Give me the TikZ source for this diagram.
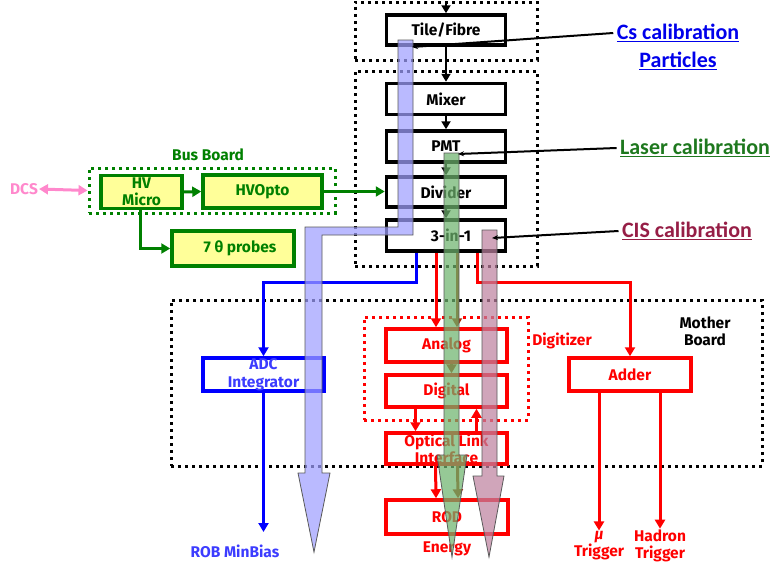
\documentclass[tikz,border=0pt]{standalone}
\usepackage{fontspec}
\setmainfont{Fira Sans}
\newfontfamily\califont{Carlito}
\usetikzlibrary{arrows.meta,calc}
\definecolor{tgreen}{RGB}{0,128,0}
\definecolor{byellow}{RGB}{255,255,153}
\definecolor{tred}{RGB}{255,0,0}
\definecolor{tbrown}{RGB}{170,40,0}
\definecolor{tblue}{RGB}{0,0,255}
\definecolor{rblue}{RGB}{60,60,255}
\definecolor{tpink}{RGB}{255,136,204}
\definecolor{bandblue}{RGB}{160,160,255}
\definecolor{bandgreen}{RGB}{110,180,110}
\definecolor{bandpink}{RGB}{190,130,160}
\definecolor{csblue}{RGB}{0,0,235}
\definecolor{lgreen}{RGB}{30,120,30}
\definecolor{cisred}{RGB}{150,30,70}
\newcommand\lab{\bfseries\fontsize{15.5}{17}\selectfont}
\newcommand\clab{\califont\bfseries\fontsize{22}{24}\selectfont}
\begin{document}
\begin{tikzpicture}[x=1pt,y=-1pt,
  dotbox/.style={draw=black, line width=3pt, dash pattern=on 3pt off 4pt, minimum width=#1, inner sep=0pt},
  blk/.style={draw=black, line width=3.5pt, minimum width=119pt, minimum height=30pt, inner sep=0pt, font=\lab, fill=white},
  rbox/.style={draw=tred, text=tred, line width=3.5pt, minimum width=121pt, minimum height=33pt, inner sep=0pt, font=\lab, align=center},
  bbox/.style={draw=tblue, text=rblue, line width=3.5pt, minimum width=121pt, minimum height=33pt, inner sep=0pt, font=\lab, align=center},
  gbox/.style={draw=tgreen, fill=byellow, text=tgreen, line width=3.5pt, minimum height=33pt, inner sep=0pt, font=\lab, align=center},
  lbl/.style={font=\lab, inner sep=1pt},
  karrow/.style={draw=black, line width=2.5pt, -{Triangle[length=8pt,width=9pt]}},
  rarrow/.style={draw=tred, line width=3pt, -{Triangle[length=9pt,width=10pt]}},
  brarrow/.style={draw=tbrown, line width=3pt, -{Triangle[length=9pt,width=10pt]}},
  barrow/.style={draw=tblue, line width=3pt, -{Triangle[length=9pt,width=10pt]}},
  garrow/.style={draw=tgreen, line width=3pt, -{Triangle[length=9pt,width=10pt]}},
  parrow/.style={draw=tpink, line width=3pt, {Triangle[length=9pt,width=10pt]}-{Triangle[length=9pt,width=10pt]}},
  band/.style={draw=black!65, line width=0.8pt, fill opacity=0.72},
  callout/.style={draw=black, line width=2pt, -{Stealth[length=6pt,width=5pt]}}
]
\useasboundingbox (0,0) rectangle (774,570);

% dotted frames
\node[dotbox=182pt, minimum height=58pt] (topbox) at (446,31) {};
\node[dotbox=182pt, minimum height=195pt] (midbox) at (446,168.5) {};
\node[dotbox=591pt, minimum height=166pt] (mother) at (466.5,383) {};
\node[dotbox=164pt, minimum height=103pt, draw=tred] (digitizer) at (446,368.5) {};
\node[dotbox=246pt, minimum height=45pt, draw=tgreen] (bus) at (212,190.5) {};

% frame labels
\node[lbl, text=tgreen] (buslbl) at (208,155) {Bus Board};
\node[lbl, align=center] (mblbl) at (705,331) {Mother\\Board};
\node[lbl, text=tred] (diglbl) at (562,341) {Digitizer};
\node[lbl, text=tpink] (dcs) at (24,189) {DCS};

% main chain
\node[blk] (tile) at (446,30) {Tile/Fibre};
\node[blk, minimum height=31pt] (mixer) at (446,99) {Mixer};
\node[blk, minimum height=31pt] (pmt) at (446,146.5) {PMT};
\node[blk] (divider) at (446,192) {Divider};
\node[blk, minimum height=31pt] (three) at (446,235.5) {\hspace*{10pt}3-in-1};

% digitizer / mother board
\node[rbox] (analog) at (446.5,345.5) {Analog};
\node[rbox, minimum height=32pt] (digital) at (446.5,391) {Digital};
\node[rbox, minimum height=31pt] (optical) at (446.5,448.5) {Optical Link\\Interface};
\node[rbox, minimum width=122pt, minimum height=34pt] (rod) at (447,517) {ROD};
\node[rbox, minimum width=122pt] (adder) at (630,374.5) {Adder};
\node[bbox] (adc) at (263.5,374.5) {ADC\\[1pt]Integrator};

% bus board
\node[gbox, minimum width=81pt] (hvmicro) at (141.5,192) {HV\\Micro};
\node[gbox, minimum width=119pt] (hvopto) at (262.5,191.5) {HVOpto};
\node[gbox, minimum width=122pt, minimum height=35pt] (probes) at (233,248.5) {\hspace*{14pt}7 θ probes};

% bottom labels
\node[lbl, text=rblue] (rob) at (235,551) {ROB MinBias};
\node[lbl, text=tred] (energy) at (447,549) {Energy};
\node[lbl, text=tred, align=center] (mu) at (599,546) {\itshape μ\\Trigger};
\node[lbl, text=tred, align=center] (hadron) at (660,546) {Hadron\\Trigger};

\coordinate (feed) at (446,1);
\coordinate (robtip) at (263.5,532);

% black chain arrows
\draw[karrow] (feed) -- (tile.north);
\draw[karrow] (tile.south) -- (mixer.north);
\draw[karrow] (mixer.south) -- (pmt.north);
\draw[karrow] (pmt.south) -- (divider.north);
\draw[karrow] (divider.south) -- (three.north);

% outputs of 3-in-1
\draw[barrow] ([xshift=-30pt]three.south) -- ++(0,30) -| (adc.north);
\draw[barrow] (adc.south) -- (robtip);
\draw[rarrow] ([xshift=-10pt]three.south) -- ([xshift=-10pt]three.south |- analog.north);
\draw[brarrow] ([xshift=11pt]three.south) -- ([xshift=11pt]three.south |- analog.north);
\draw[rarrow] ([xshift=31pt]three.south) -- ++(0,30) -| (adder.north);
\draw[brarrow] ([xshift=5pt]analog.south) -- ([xshift=5pt]digital.north);
\draw[rarrow] ([xshift=-31pt]digital.south) -- ([xshift=-31pt]optical.north);
\draw[rarrow] ([xshift=30pt]optical.north) -- ([xshift=30pt]digital.south);
\draw[rarrow] ([xshift=-11pt]optical.south) -- ([xshift=-11pt]rod.north);
\draw[brarrow] ([xshift=11pt]optical.south) -- ([xshift=11pt]rod.north);
\draw[rarrow] ([xshift=-31pt]adder.south) -- (mu.north);
\draw[rarrow] ([xshift=30pt]adder.south) -- (hadron.north);

% bus board connections
\draw[garrow] (hvmicro.east) -- (hvopto.west);
\draw[garrow] (hvopto.east) -- (hvopto.east -| divider.west);
\draw[garrow] ([xshift=-1.5pt]hvmicro.south) |- (probes.west);
\draw[parrow] (dcs.east) -- (bus.west);

% calibration bands
\path[band, fill=bandblue] (398,40) -- (413,40) -- (413,235) -- (322,235) -- (322,473) -- (330,473)
  -- (314,552) -- (298,473) -- (305,473) -- (305,227) -- (398,227) -- cycle;
\path[band, fill=bandgreen] (444,153) -- (459,153) -- (459,455) -- (467,455) -- (452,557)
  -- (437,455) -- (444,455) -- cycle;
\path[band, fill=bandpink] (482,230) -- (497,230) -- (497,476) -- (504,476) -- (489,557)
  -- (473,476) -- (482,476) -- cycle;

% calibration callouts
\node[font=\clab, text=csblue] (cs) at (678,33) {\underline{Cs calibration}};
\node[font=\clab, text=csblue] (particles) at (678,61) {\underline{Particles}};
\node[font=\clab, text=lgreen] (laser) at (695,148) {\underline{Laser calibration}};
\node[font=\clab, text=cisred] (cis) at (687,231) {\underline{CIS calibration}};
\coordinate (cstip) at (412,47);
\coordinate (lasertip) at (458,154);
\coordinate (cistip) at (492,238);
\draw[callout] (cs.west) -- (cstip);
\draw[callout] (laser.west) -- (lasertip);
\draw[callout] (cis.west) -- (cistip);
\end{tikzpicture}
\end{document}
